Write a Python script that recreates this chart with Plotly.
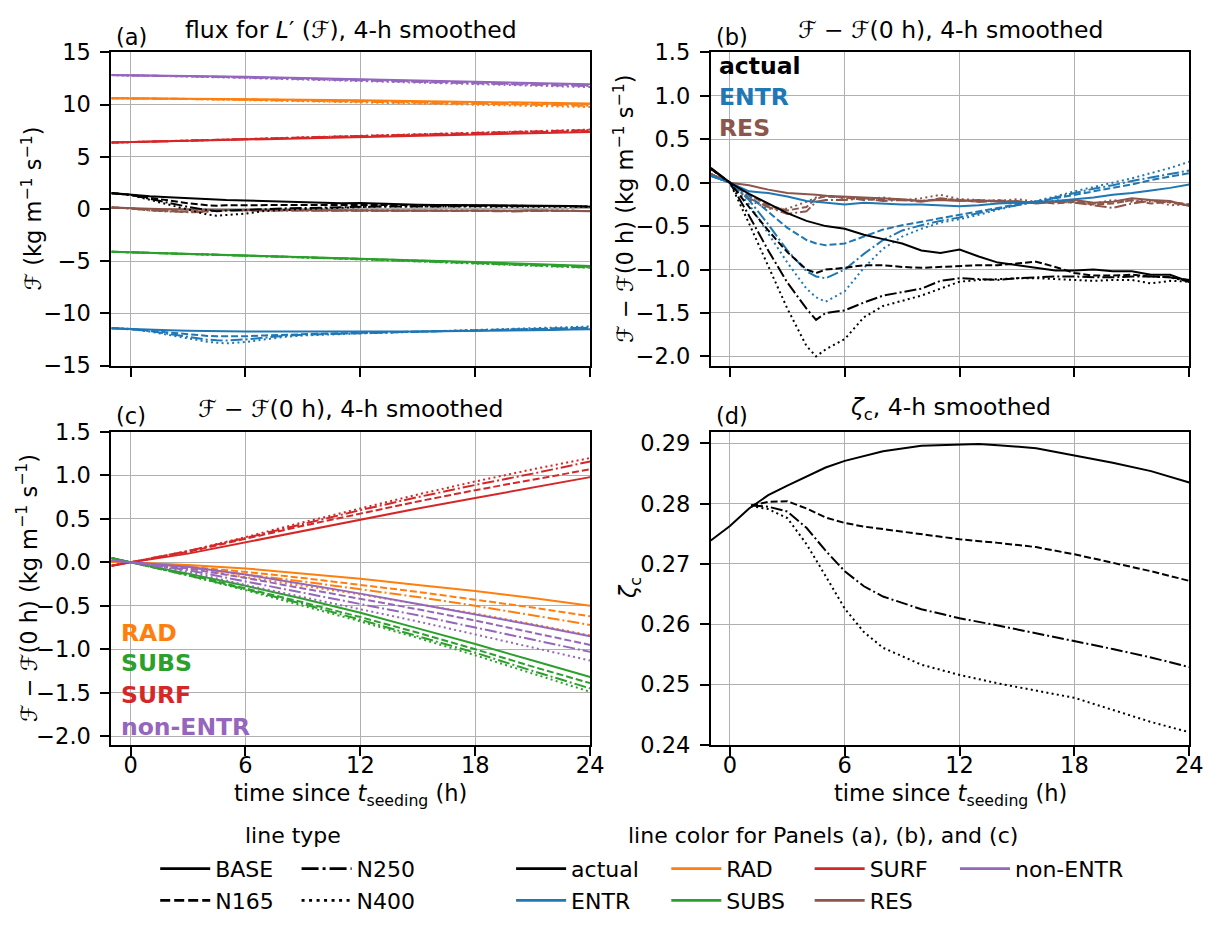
import plotly.graph_objects as go

W, H = 1227, 927

# ---------------- data ----------------
# panel (b): F - F(0h) for actual / ENTR / RES, 4 runs each
t_b = [-1, 0, 1, 2, 3, 4, 4.5, 5, 6, 7, 8, 9, 10, 11, 12, 13, 14, 15, 16, 17, 18, 19, 20, 21, 22, 23, 24]

actual_base = [0.17, 0.0, -0.13, -0.24, -0.35, -0.44, -0.47, -0.50, -0.53, -0.60, -0.65, -0.70, -0.78, -0.81, -0.77, -0.85, -0.92, -0.95, -0.98, -1.01, -1.01, -1.00, -1.02, -1.02, -1.06, -1.06, -1.14]
actual_n165 = [0.16, 0.0, -0.28, -0.55, -0.80, -1.00, -1.04, -1.00, -0.98, -0.95, -0.95, -0.97, -0.98, -0.97, -0.96, -0.95, -0.95, -0.93, -0.91, -0.97, -1.04, -1.07, -1.07, -1.06, -1.08, -1.09, -1.12]
actual_n250 = [0.16, 0.0, -0.38, -0.78, -1.15, -1.45, -1.58, -1.50, -1.47, -1.38, -1.30, -1.26, -1.22, -1.13, -1.10, -1.11, -1.12, -1.10, -1.09, -1.08, -1.08, -1.09, -1.09, -1.08, -1.08, -1.09, -1.14]
actual_n400 = [0.16, 0.0, -0.47, -0.95, -1.45, -1.88, -2.00, -1.92, -1.80, -1.55, -1.42, -1.36, -1.30, -1.22, -1.14, -1.12, -1.11, -1.10, -1.10, -1.11, -1.12, -1.13, -1.12, -1.12, -1.16, -1.13, -1.14]

entr_base = [0.08, 0.0, -0.10, -0.12, -0.16, -0.21, -0.22, -0.23, -0.25, -0.23, -0.24, -0.25, -0.25, -0.26, -0.27, -0.26, -0.24, -0.23, -0.22, -0.21, -0.19, -0.17, -0.14, -0.12, -0.09, -0.06, -0.02]
entr_n165 = [0.08, 0.0, -0.15, -0.33, -0.52, -0.66, -0.70, -0.72, -0.70, -0.62, -0.54, -0.49, -0.45, -0.41, -0.37, -0.33, -0.29, -0.25, -0.22, -0.18, -0.14, -0.10, -0.06, -0.02, 0.03, 0.07, 0.11]
entr_n250 = [0.08, 0.0, -0.20, -0.48, -0.78, -1.02, -1.08, -1.10, -1.00, -0.82, -0.66, -0.55, -0.49, -0.44, -0.40, -0.35, -0.30, -0.26, -0.22, -0.17, -0.12, -0.07, -0.03, 0.02, 0.06, 0.10, 0.14]
entr_n400 = [0.08, 0.0, -0.25, -0.58, -0.92, -1.22, -1.32, -1.37, -1.25, -0.98, -0.76, -0.62, -0.53, -0.46, -0.42, -0.37, -0.31, -0.26, -0.21, -0.16, -0.10, -0.05, 0.00, 0.05, 0.11, 0.17, 0.24]

res_base = [0.10, 0.0, -0.03, -0.08, -0.12, -0.13, -0.14, -0.15, -0.16, -0.17, -0.18, -0.19, -0.21, -0.20, -0.21, -0.20, -0.22, -0.21, -0.24, -0.22, -0.20, -0.23, -0.22, -0.18, -0.20, -0.21, -0.27]
res_n165 = [0.10, 0.0, -0.14, -0.26, -0.32, -0.28, -0.18, -0.16, -0.17, -0.20, -0.19, -0.20, -0.21, -0.19, -0.20, -0.22, -0.20, -0.23, -0.22, -0.24, -0.22, -0.25, -0.24, -0.20, -0.24, -0.22, -0.25]
res_n250 = [0.10, 0.0, -0.18, -0.28, -0.36, -0.33, -0.22, -0.20, -0.20, -0.18, -0.21, -0.20, -0.22, -0.18, -0.20, -0.22, -0.21, -0.24, -0.23, -0.22, -0.23, -0.26, -0.29, -0.24, -0.21, -0.23, -0.26]
res_n400 = [0.10, 0.0, -0.20, -0.30, -0.30, -0.22, -0.17, -0.15, -0.18, -0.19, -0.17, -0.20, -0.18, -0.14, -0.19, -0.20, -0.21, -0.19, -0.22, -0.20, -0.22, -0.24, -0.20, -0.22, -0.20, -0.26, -0.25]

# panel (c): F - F(0h) for RAD / SUBS / SURF / non-ENTR
t_c = [-1, 0, 3, 6, 9, 12, 15, 18, 21, 24]

rad_base = [0.01, 0.0, -0.03, -0.07, -0.13, -0.19, -0.26, -0.33, -0.41, -0.50]
rad_n165 = [0.01, 0.0, -0.05, -0.11, -0.18, -0.26, -0.34, -0.43, -0.52, -0.62]
rad_n250 = [0.01, 0.0, -0.06, -0.14, -0.22, -0.31, -0.40, -0.50, -0.61, -0.72]
rad_n400 = [0.01, 0.0, -0.07, -0.17, -0.27, -0.37, -0.48, -0.59, -0.71, -0.84]

subs_base = [0.05, 0.0, -0.13, -0.27, -0.42, -0.58, -0.76, -0.94, -1.13, -1.32]
subs_n165 = [0.05, 0.0, -0.14, -0.30, -0.46, -0.63, -0.81, -1.00, -1.20, -1.39]
subs_n250 = [0.05, 0.0, -0.15, -0.31, -0.48, -0.66, -0.85, -1.04, -1.25, -1.45]
subs_n400 = [0.05, 0.0, -0.15, -0.32, -0.50, -0.68, -0.87, -1.07, -1.28, -1.49]

surf_base = [-0.04, 0.0, 0.10, 0.23, 0.36, 0.49, 0.62, 0.74, 0.86, 0.98]
surf_n165 = [-0.04, 0.0, 0.12, 0.27, 0.42, 0.56, 0.70, 0.83, 0.95, 1.07]
surf_n250 = [-0.04, 0.0, 0.13, 0.28, 0.44, 0.60, 0.75, 0.89, 1.02, 1.16]
surf_n400 = [-0.04, 0.0, 0.13, 0.29, 0.46, 0.62, 0.78, 0.93, 1.07, 1.20]

nonentr_base = [0.02, 0.0, -0.05, -0.14, -0.25, -0.36, -0.48, -0.60, -0.72, -0.85]
nonentr_n165 = [0.02, 0.0, -0.07, -0.18, -0.30, -0.42, -0.54, -0.67, -0.81, -0.95]
nonentr_n250 = [0.02, 0.0, -0.09, -0.22, -0.35, -0.48, -0.61, -0.75, -0.89, -1.03]
nonentr_n400 = [0.02, 0.0, -0.11, -0.26, -0.40, -0.54, -0.68, -0.83, -0.98, -1.13]

# panel (a): flux at seeding time (kg m-1 s-1), added to the deviations above
f0_actual = 1.35
f0_entr = -11.5
f0_res = 0.05
f0_rad = 10.6
f0_subs = -4.15
f0_surf = 6.4
f0_nonentr = 12.8

# panel (d): zeta_c
t_d_base = [-1, 0, 1, 2, 3, 4, 5, 6, 8, 10, 12, 13, 14, 16, 18, 20, 22, 24]
zeta_base = [0.2739, 0.2763, 0.2792, 0.2814, 0.2830, 0.2845, 0.2860, 0.2871, 0.2887, 0.2896, 0.2898, 0.2899, 0.2897, 0.2892, 0.2880, 0.2868, 0.2854, 0.2835]
t_d_seed = [1.1, 2, 3, 4, 5, 6, 7, 8, 10, 12, 14, 16, 18, 20, 22, 24]
zeta_n165 = [0.2797, 0.2803, 0.2804, 0.2792, 0.2777, 0.2768, 0.2762, 0.2758, 0.2750, 0.2741, 0.2735, 0.2728, 0.2716, 0.2702, 0.2688, 0.2672]
zeta_n250 = [0.2797, 0.2795, 0.2787, 0.2760, 0.2722, 0.2688, 0.2663, 0.2646, 0.2625, 0.2610, 0.2598, 0.2585, 0.2573, 0.2559, 0.2545, 0.2529]
zeta_n400 = [0.2796, 0.2791, 0.2776, 0.2733, 0.2680, 0.2626, 0.2587, 0.2561, 0.2533, 0.2516, 0.2502, 0.2490, 0.2478, 0.2458, 0.2438, 0.2421]

run_names = ["BASE", "N165", "N250", "N400"]
comp_names = ["actual", "ENTR", "RES", "RAD", "SUBS", "SURF", "non-ENTR"]

# ---------------- styles ----------------
C = {"actual": "#000000", "ENTR": "#1f77b4", "RES": "#8c564b", "RAD": "#ff7f0e",
     "SUBS": "#2ca02c", "SURF": "#d62728", "non-ENTR": "#9467bd"}
DASH = {"BASE": "solid", "N165": "7px,3px", "N250": "12px,3px,2px,3px", "N400": "2px,3.3px"}
DASH_LEG = {"BASE": "solid", "N165": "10px,4px", "N250": "17px,4px,3px,4px", "N400": "3px,4.5px"}
LW = 2.0
FONT = "DejaVu Sans"

fig = go.Figure()

def add(x, y, comp, run, xa, ya):
    fig.add_trace(go.Scatter(x=x, y=y, mode="lines", xaxis=xa, yaxis=ya, showlegend=False,
                             line=dict(color=C[comp], width=LW, dash=DASH[run]),
                             name=f"{comp} {run}", hoverinfo="skip"))

panel_b = {"actual": (f0_actual, [actual_base, actual_n165, actual_n250, actual_n400]),
           "ENTR": (f0_entr, [entr_base, entr_n165, entr_n250, entr_n400]),
           "RES": (f0_res, [res_base, res_n165, res_n250, res_n400])}
panel_c = {"RAD": (f0_rad, [rad_base, rad_n165, rad_n250, rad_n400]),
           "SUBS": (f0_subs, [subs_base, subs_n165, subs_n250, subs_n400]),
           "SURF": (f0_surf, [surf_base, surf_n165, surf_n250, surf_n400]),
           "non-ENTR": (f0_nonentr, [nonentr_base, nonentr_n165, nonentr_n250, nonentr_n400])}

# panel (a): absolute flux
for comp in ["non-ENTR", "RAD", "SURF", "RES", "SUBS", "ENTR", "actual"]:
    if comp in panel_b:
        f0, series = panel_b[comp]; tt = t_b
    else:
        f0, series = panel_c[comp]; tt = t_c
    for run, s in zip(run_names, series):
        add(tt, [f0 + v for v in s], comp, run, "x", "y")

# panel (b)
for comp in ["RES", "ENTR", "actual"]:
    for run, s in zip(run_names, panel_b[comp][1]):
        add(t_b, s, comp, run, "x2", "y2")

# panel (c)
for comp in ["RAD", "SUBS", "SURF", "non-ENTR"]:
    for run, s in zip(run_names, panel_c[comp][1]):
        add(t_c, s, comp, run, "x3", "y3")

# panel (d)
add(t_d_base, zeta_base, "actual", "BASE", "x4", "y4")
add(t_d_seed, zeta_n165, "actual", "N165", "x4", "y4")
add(t_d_seed, zeta_n250, "actual", "N250", "x4", "y4")
add(t_d_seed, zeta_n400, "actual", "N400", "x4", "y4")

# legend-only entries
leg_runs = [("legend", "BASE"), ("legend", "N165"), ("legend2", "N250"), ("legend2", "N400")]
for lg, run in leg_runs:
    fig.add_trace(go.Scatter(x=[None], y=[None], mode="lines", name=run, legend=lg, legendgroup=run,
                             line=dict(color="black", width=2.8, dash=DASH_LEG[run]), xaxis="x4", yaxis="y4"))
leg_cols = [("legend3", "actual"), ("legend3", "ENTR"), ("legend4", "RAD"), ("legend4", "SUBS"),
            ("legend5", "SURF"), ("legend5", "RES"), ("legend6", "non-ENTR")]
for lg, comp in leg_cols:
    fig.add_trace(go.Scatter(x=[None], y=[None], mode="lines", name=comp, legend=lg, legendgroup=comp,
                             line=dict(color=C[comp], width=2.8), xaxis="x4", yaxis="y4"))

# ---------------- layout ----------------
def px_x(p): return p / W
def px_y(p): return 1 - p / H

xl = [px_x(112.7), px_x(597)]
xr = [px_x(719), px_x(1203)]
yt = [px_y(362.7), px_y(40.5)]
yb = [px_y(753), px_y(431)]

TICK = 22.5
axcommon = dict(showline=True, linecolor="black", linewidth=2, mirror=True, ticks="outside",
                ticklen=9, tickwidth=2, tickcolor="black", showgrid=True, gridcolor="#b0b0b0",
                gridwidth=1, zeroline=False, tickfont=dict(size=TICK, color="black", family=FONT),
                ticklabelstandoff=5)
xcommon = dict(axcommon, range=[-1.0, 24], tickvals=[0, 6, 12, 18, 24], ticklabelstandoff=-10)

fig.update_layout(
    width=W, height=H, margin=dict(l=0, r=0, t=0, b=0),
    paper_bgcolor="white", plot_bgcolor="white",
    font=dict(family=FONT, color="black"),
    xaxis=dict(xcommon, domain=xl, anchor="y", showticklabels=False),
    yaxis=dict(axcommon, domain=yt, anchor="x", range=[-15, 15], tickvals=[-15, -10, -5, 0, 5, 10, 15]),
    xaxis2=dict(xcommon, domain=xr, anchor="y2", showticklabels=False),
    yaxis2=dict(axcommon, domain=yt, anchor="x2", range=[-2.105, 1.5], dtick=0.5, tick0=0, tickformat=".1f"),
    xaxis3=dict(xcommon, domain=xl, anchor="y3"),
    yaxis3=dict(axcommon, domain=yb, anchor="x3", range=[-2.1, 1.5], dtick=0.5, tick0=0, tickformat=".1f"),
    xaxis4=dict(xcommon, domain=xr, anchor="y4"),
    yaxis4=dict(axcommon, domain=yb, anchor="x4", range=[0.24, 0.2919], dtick=0.01, tick0=0.24, tickformat=".2f"),
)

leg_common = dict(font=dict(size=22, color="black", family=FONT), bgcolor="rgba(0,0,0,0)",
                  borderwidth=0, traceorder="grouped", tracegroupgap=0, itemwidth=50,
                  xanchor="left", yanchor="top", itemclick=False, itemdoubleclick=False)
leg_y = px_y(859)
fig.update_layout(
    legend=dict(leg_common, x=px_x(157), y=leg_y),
    legend2=dict(leg_common, x=px_x(300), y=leg_y),
    legend3=dict(leg_common, x=px_x(517), y=leg_y),
    legend4=dict(leg_common, x=px_x(674), y=leg_y),
    legend5=dict(leg_common, x=px_x(819), y=leg_y),
    legend6=dict(leg_common, x=px_x(966), y=leg_y),
)

ann = []
def text(x, y, s, size=22.5, color="black", xanchor="center", bold=False, xref="paper", yref="paper", angle=0):
    ann.append(dict(x=x, y=y, xref=xref, yref=yref, text=(f"<b>{s}</b>" if bold else s), showarrow=False,
                    xanchor=xanchor, yanchor="middle", textangle=angle,
                    font=dict(size=size, color=color, family=FONT)))

# panel titles and labels
text(px_x(355), px_y(17), "flux for <i>L</i>′ (ℱ), 4-h smoothed", size=23.5)
text(px_x(961), px_y(17), "ℱ − ℱ(0 h), 4-h smoothed", size=23.5)
text(px_x(355), px_y(407), "ℱ − ℱ(0 h), 4-h smoothed", size=23.5)
text(px_x(961), px_y(407), "<i>ζ</i><sub>c</sub>, 4-h smoothed", size=23.5)
text(px_x(115), px_y(25), "(a)", xanchor="left")
text(px_x(722), px_y(25), "(b)", xanchor="left")
text(px_x(115), px_y(415), "(c)", xanchor="left")
text(px_x(722), px_y(415), "(d)", xanchor="left")

# axis titles
ylab_flux = "ℱ (kg m<sup>−1</sup> s<sup>−1</sup>)"
ylab_diff = "ℱ − ℱ(0 h) (kg m<sup>−1</sup> s<sup>−1</sup>)"
text(px_x(32), px_y(201.6), ylab_flux, angle=-90)
text(px_x(631), px_y(201.6), ylab_diff, angle=-90)
text(px_x(27), px_y(592), ylab_diff, angle=-90)
text(px_x(638), px_y(592), "<i>ζ</i><sub>c</sub>", angle=-90)
xlab = "time since <i>t</i><sub>seeding</sub> (h)"
text(px_x(355), px_y(805), xlab)
text(px_x(961), px_y(805), xlab)

# in-panel component labels
for s, yy in [("actual", 0.955), ("ENTR", 0.856), ("RES", 0.76)]:
    text(0.012, yy, s, size=23.5, color=C[s], xanchor="left", bold=True, xref="x2 domain", yref="y2 domain")
for s, yy in [("RAD", 0.357), ("SUBS", 0.261), ("SURF", 0.158), ("non-ENTR", 0.056)]:
    text(0.015, yy, s, size=23.5, color=C[s], xanchor="left", bold=True, xref="x3 domain", yref="y3 domain")

# legend titles
text(px_x(296), px_y(846), "line type", size=22)
text(px_x(832), px_y(846), "line color for Panels (a), (b), and (c)", size=22)

fig.update_layout(annotations=ann)
fig.write_html("out.html")
